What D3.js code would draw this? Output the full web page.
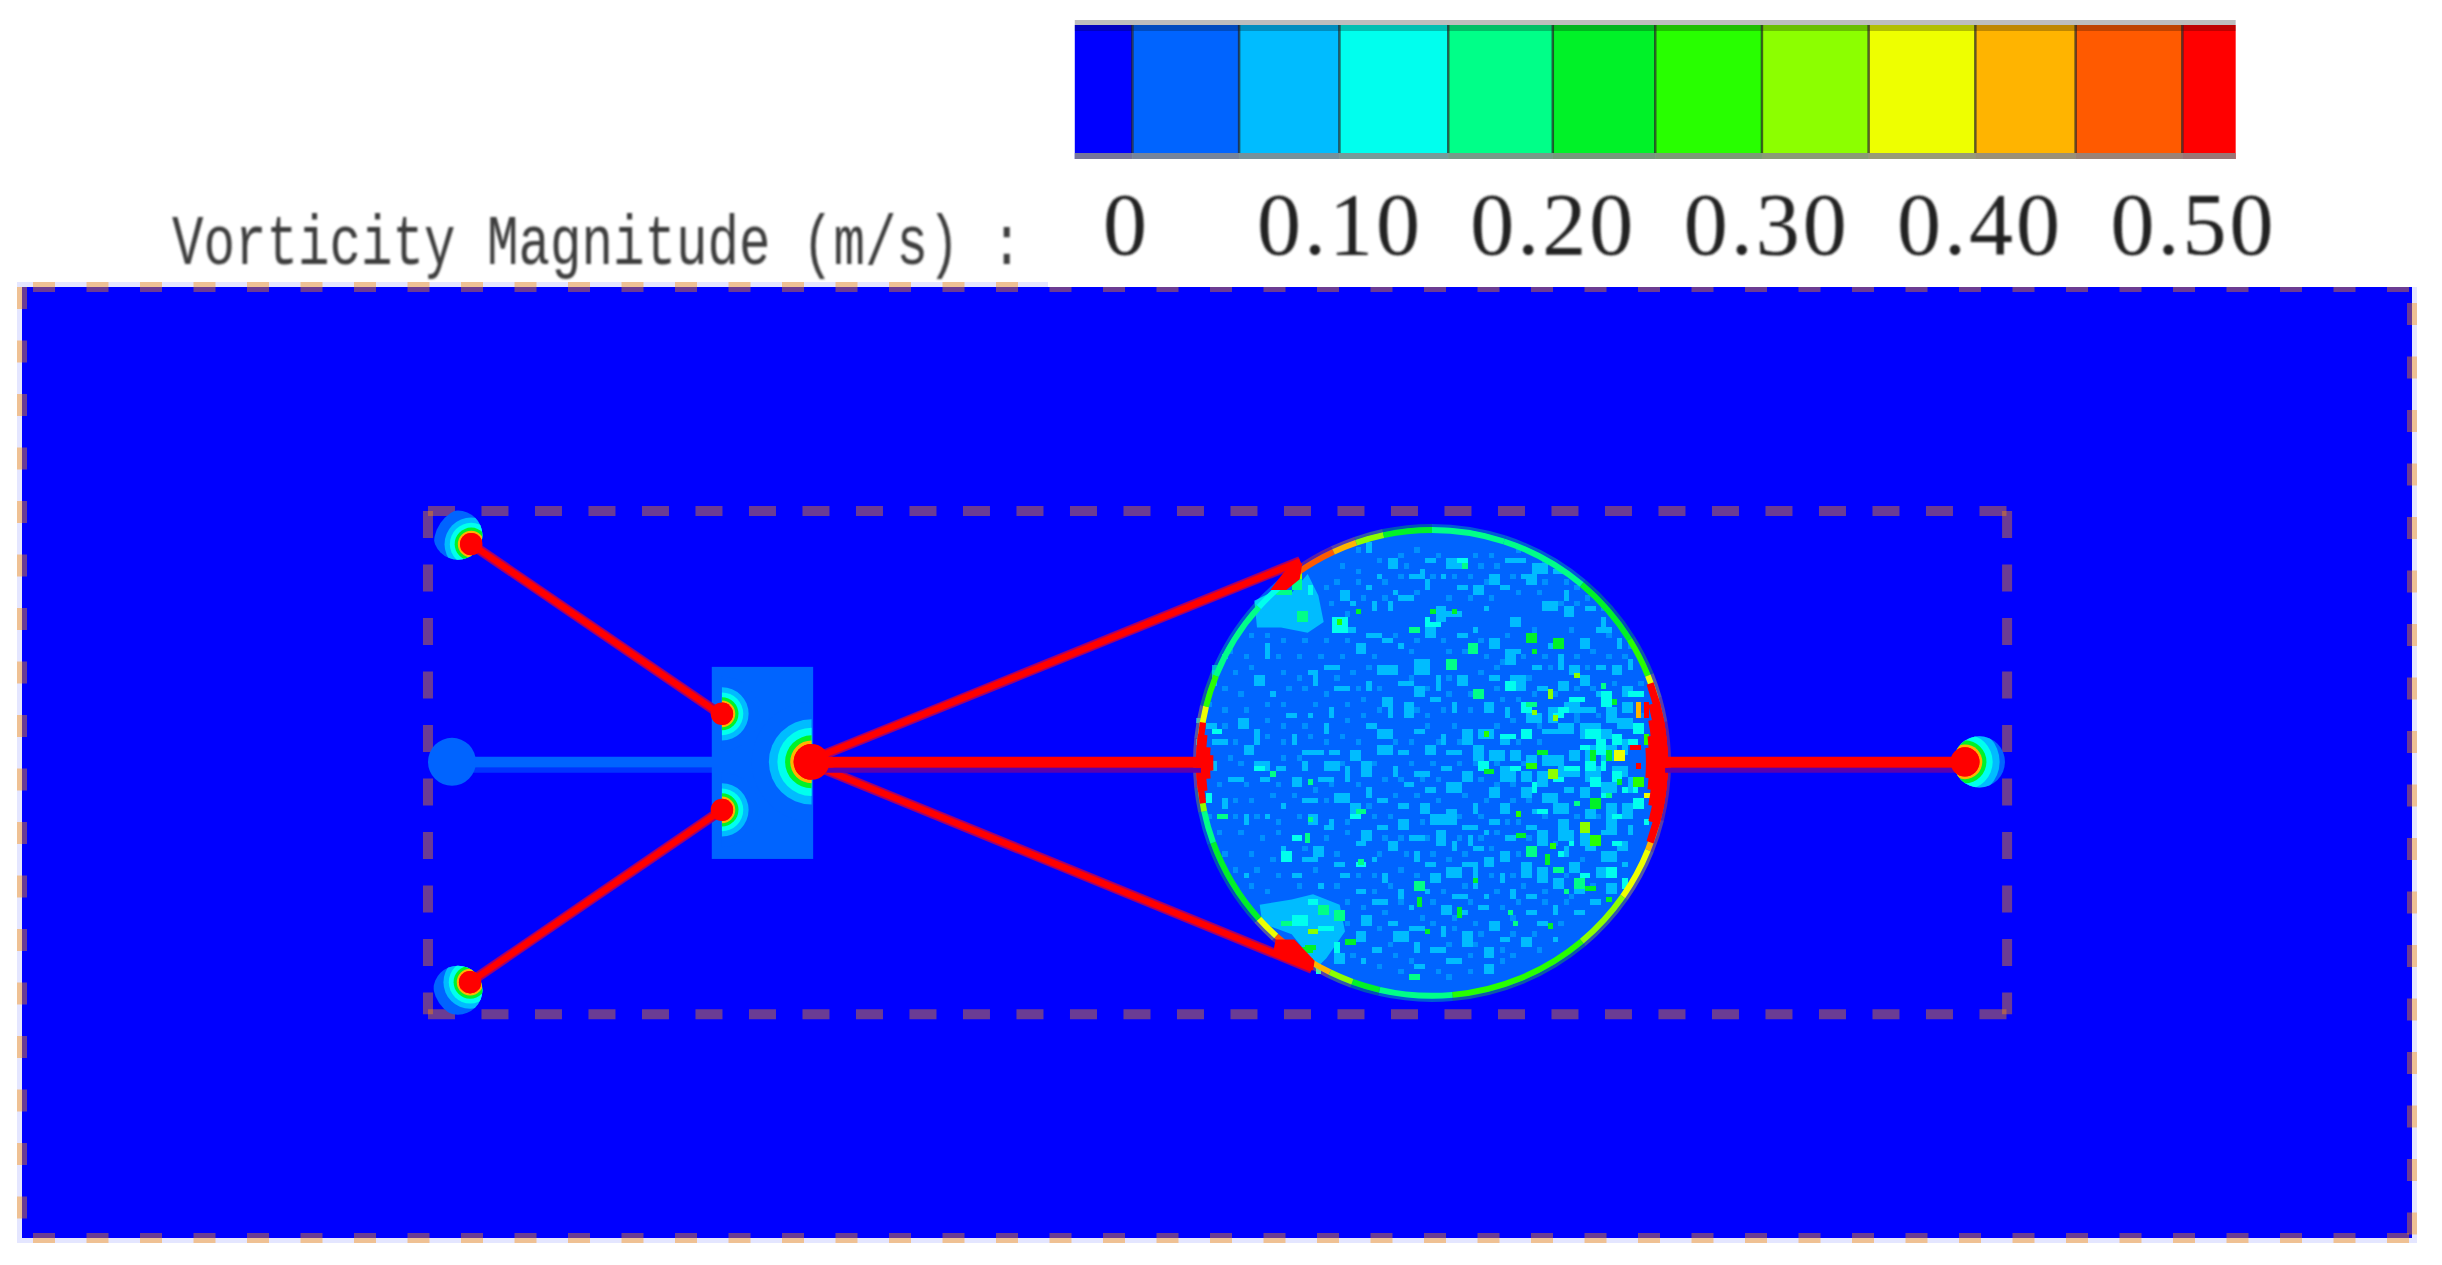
<!DOCTYPE html>
<html>
<head>
<meta charset="utf-8">
<script src="https://cdn.jsdelivr.net/npm/d3@7"></script>
<style>
  body { margin: 0; background: #fff; }
  svg { display: block; }
</style>
</head>
<body>
<svg id="chart" width="2442" height="1265"></svg>
<script>
// colour bar: value edges of every band and the band colours
const barEdges = [-0.024, 0.003, 0.053, 0.100, 0.151, 0.200, 0.248, 0.298, 0.348, 0.398, 0.445, 0.495, 0.520];
const barColors = ["#0000ff", "#0064ff", "#00bcff", "#00ffee", "#00ff88", "#00f228", "#28ff00", "#8cff00", "#eeff00", "#ffb400", "#ff5a00", "#ff0000"];
const barTicks = [0, 0.10, 0.20, 0.30, 0.40, 0.50];
const title = "Vorticity Magnitude (m/s) :";

// model geometry in grid cells of the source raster
const frameX = [76.1, 372.1];
const frameY = [42, 136.3];
const sphere = [264.3, 89.2, 44.2];
const tailNode = [80.6, 89, 4.5];
const block = [[129.3, 71.2], [148.3, 107.2]];

// [x1, y1, x2, y2]
const cables = [
  [84.2, 48.2, 130.8, 80],
  [84, 130.3, 131.2, 98],
  [147, 89, 239.6, 51.4],
  [147, 89, 241.8, 127.8]
];
const axisCables = [[147, 221], [308, 363.6]];
const tailCable = [84, 130];

// joints: x, y, first angle, last angle, ring size, clip disc [x, y, r] or null
const joints = [
  [84.2, 48.2, 0, 360, 1, [81.7, 46.5, 4.6]],
  [84, 130.3, 0, 360, 1, [81.7, 131.8, 4.6]],
  [131.2, 80, 0, 180, 1, null],
  [131.2, 98, 0, 180, 1, null],
  [148, 89, 180, 360, 1.6, null],
  [364.2, 89, 0, 360, 1.3, [366.9, 89, 4.8]]
];
const ringRadius = [7, 5, 4, 3.1, 2.5, 2.1];
const ringLevel = [1, 2, 3, 5, 9, 11];

// sphere rim, clockwise from the top in degrees
const rimBreaks = [0, 18, 40, 58, 68, 74, 80, 104, 112, 125, 140, 175, 193, 200, 206, 212, 222, 228, 250, 258, 264, 276, 284, 292, 312, 320, 325, 335, 341, 348, 360];
const rimLevels = [4, 4, 5, 6, 8, 9, 10, 9, 8, 7, 6, 4, 5, 7, 9, 10, 8, 5, 4, 7, 9, 8, 6, 4, 3, 7, 10, 9, 7, 5];
// red crescents: first angle, last angle, depth in cells
const crescents = [[70, 110, 1.4], [75, 105, 2.2], [79, 101, 2.9], [83, 97, 3.5], [86, 94, 4.1], [260, 280, 1.2], [263, 277, 1.8], [266, 274, 2.6], [268, 272, 3.2]];

// bright patches by the cable ends, points in cells from the sphere crop
const patchTop = [[14, 17], [17, 15.5], [21, 15.5], [24, 12], [26, 16], [27, 21], [24, 23], [19, 22], [14.5, 22]];
const patchBottom = [[15, 74], [21, 73], [25, 72], [30, 74], [31, 79], [27.5, 84], [25.5, 86], [23, 82], [21, 79.5], [15.5, 77.5]];
const wedgeTop = [[20.5, 10.5], [23, 10], [22.5, 13], [20, 15], [17, 15], [18.5, 13]];
const wedgeBottom = [[18, 80.5], [21.5, 80.5], [25.3, 84.5], [25, 86.3], [21, 85], [17.5, 83]];

// speckle inside the sphere: [col, row, wide, high], cells from the sphere crop
const speckleFaint = [
  [33, 7], [41, 8], [44, 7], [55, 8], [58, 8], [63, 7], [30, 10], [33, 11], [37, 9], [42, 10], [48, 8], [56, 10], [59, 10], [68, 9], [72, 13],
  [27, 14], [29, 13], [33, 13], [38, 13], [41, 12], [47, 12], [51, 12], [54, 12], [57, 13], [62, 12], [68, 13], [74, 14], [76, 16],
  [28, 17], [31, 19], [34, 16], [38, 16], [44, 15], [50, 16], [54, 16], [58, 16], [63, 15], [67, 15], [71, 17], [74, 17], [79, 18],
  [13, 23], [16, 23], [19, 24], [23, 24], [27, 24], [31, 24], [40, 23], [44, 24], [49, 24], [56, 24], [61, 23], [66, 22], [73, 22], [80, 23], [84, 25],
  [9, 26], [12, 27], [18, 27], [22, 27], [26, 27], [30, 27], [36, 27], [43, 26], [50, 26], [53, 26], [57, 27], [60, 28], [64, 27], [68, 27], [74, 27], [77, 26], [80, 27], [83, 27],
  [6, 29], [10, 30], [13, 29], [19, 30], [22, 31], [29, 31], [32, 30], [35, 29], [43, 31], [50, 31], [56, 30], [59, 29], [65, 31], [69, 29], [76, 29],
  [8, 33], [11, 34], [20, 33], [23, 33], [27, 34], [33, 33], [37, 33], [46, 33], [50, 34], [54, 34], [59, 33], [66, 34], [70, 34], [74, 33], [77, 33], [81, 32], [86, 32],
  [5, 36], [8, 37], [12, 37], [16, 36], [19, 36], [25, 36], [31, 36], [34, 35], [37, 37], [44, 37], [46, 38], [49, 37], [54, 37], [60, 35], [63, 35], [74, 38], [78, 38], [86, 38],
  [3, 39], [8, 40], [16, 39], [19, 40], [23, 40], [31, 39], [34, 38], [46, 40], [51, 40], [59, 40], [62, 39], [67, 40], [74, 39],
  [3, 43], [10, 43], [16, 42], [19, 43], [24, 42], [27, 43], [30, 42], [33, 43], [40, 43], [43, 43], [48, 43], [52, 43], [63, 43], [67, 43],
  [3, 46], [9, 46], [11, 47], [19, 46], [22, 46], [30, 47], [36, 47], [43, 47], [47, 47], [52, 47], [55, 47], [59, 47], [64, 47],
  [4, 50], [7, 51], [12, 51], [18, 51], [25, 52], [28, 51], [33, 51], [38, 50], [41, 50], [45, 50], [48, 50], [56, 50], [59, 51], [62, 51],
  [4, 54], [10, 54], [13, 54], [17, 53], [21, 53], [27, 54], [35, 55], [40, 53], [44, 53], [48, 54], [53, 53], [57, 54], [62, 54], [65, 54], [72, 55],
  [5, 57], [10, 57], [14, 57], [18, 58], [22, 57], [31, 58], [36, 57], [39, 57], [45, 58], [52, 57], [56, 57], [61, 58], [63, 58], [68, 57], [74, 57], [78, 57],
  [7, 60], [11, 60], [15, 61], [18, 60], [27, 61], [31, 60], [38, 61], [41, 61], [46, 61], [52, 61], [56, 61], [59, 60], [65, 61], [70, 62], [78, 62],
  [8, 64], [13, 64], [17, 65], [23, 63], [29, 64], [37, 64], [42, 64], [47, 64], [50, 65], [53, 64], [58, 63], [63, 64], [66, 64], [75, 65],
  [10, 67], [14, 67], [18, 68], [25, 67], [33, 68], [36, 68], [41, 67], [44, 68], [58, 68], [62, 68], [72, 68], [77, 70],
  [13, 70], [16, 71], [22, 70], [29, 70], [36, 71], [39, 70], [44, 70], [49, 71], [53, 70], [59, 71], [64, 70], [68, 71], [72, 73],
  [31, 73], [34, 74], [41, 73], [47, 73], [54, 73], [60, 74], [63, 73], [68, 73], [73, 72], [38, 75], [45, 76], [51, 76], [55, 77], [62, 76], [71, 77],
  [31, 77], [37, 78], [47, 77], [51, 78], [56, 79], [62, 79], [66, 79], [39, 81], [50, 81], [55, 81], [60, 82], [67, 82],
  [32, 83], [40, 83], [43, 84], [54, 83], [60, 84], [62, 83], [37, 85], [41, 86], [48, 86], [54, 86], [50, 87]
];
const speckleLight = [
  [35, 6, 1, 2], [39, 9, 2, 2], [46, 9, 2, 1], [50, 9, 3, 2], [61, 9, 4, 1], [66, 10, 3, 2], [45, 11, 1, 2], [37, 12, 1, 1],
  [43, 12, 2, 1], [49, 12, 1, 1], [58, 12, 2, 2], [64, 12, 3, 1], [70, 11, 2, 1], [30, 15, 2, 2], [35, 14, 1, 1], [40, 15, 1, 1],
  [46, 13, 1, 2], [52, 14, 2, 1], [55, 14, 2, 2], [60, 14, 2, 1], [65, 12, 2, 2], [72, 15, 1, 2], [32, 17, 1, 1], [36, 17, 1, 2],
  [39, 17, 1, 2], [41, 16, 3, 1], [48, 18, 2, 3], [50, 19, 3, 1], [57, 18, 1, 1], [62, 20, 2, 2], [68, 17, 3, 2], [72, 18, 2, 2],
  [76, 18, 2, 1], [79, 20, 1, 2], [43, 22, 2, 1], [46, 21, 2, 3], [30, 22, 3, 1], [35, 23, 3, 1], [38, 24, 2, 1], [33, 25, 2, 2],
  [41, 25, 1, 1], [52, 23, 2, 1], [55, 22, 1, 1], [58, 24, 2, 2], [63, 26, 1, 1], [69, 25, 2, 1], [75, 24, 2, 2], [78, 22, 3, 1],
  [82, 24, 1, 2], [16, 25, 1, 3], [8, 27, 1, 1], [14, 31, 2, 2], [17, 34, 1, 1], [24, 30, 2, 1], [27, 29, 3, 1], [37, 29, 4, 2],
  [44, 28, 3, 3], [48, 31, 1, 3], [61, 26, 2, 3], [66, 29, 2, 1], [71, 27, 1, 3], [73, 29, 2, 2], [78, 29, 2, 1], [81, 29, 2, 2],
  [84, 28, 1, 2], [6, 30, 1, 3], [25, 31, 1, 2], [29, 33, 3, 1], [35, 32, 1, 2], [41, 32, 3, 1], [44, 33, 2, 2], [52, 31, 2, 2],
  [58, 31, 2, 1], [62, 31, 3, 3], [67, 33, 2, 1], [71, 32, 2, 2], [75, 31, 2, 2], [78, 34, 3, 1], [83, 33, 2, 2], [28, 37, 1, 2],
  [38, 35, 2, 2], [42, 36, 2, 3], [39, 37, 1, 2], [47, 35, 2, 1], [51, 36, 1, 2], [57, 36, 2, 2], [61, 37, 1, 2], [65, 38, 3, 2],
  [69, 37, 2, 3], [72, 36, 3, 2], [75, 37, 3, 1], [80, 37, 2, 3], [83, 36, 2, 2], [5, 40, 2, 1], [11, 39, 2, 2], [14, 41, 1, 3],
  [20, 38, 2, 1], [24, 38, 1, 1], [27, 40, 1, 2], [35, 40, 2, 1], [37, 41, 3, 2], [44, 41, 2, 1], [49, 42, 1, 2], [53, 41, 2, 3],
  [56, 41, 3, 2], [60, 43, 2, 1], [64, 41, 1, 2], [68, 41, 3, 1], [71, 40, 3, 2], [75, 40, 4, 3], [79, 41, 2, 2], [82, 39, 3, 2],
  [6, 43, 3, 1], [12, 44, 2, 2], [21, 42, 1, 2], [23, 45, 4, 1], [28, 45, 2, 1], [32, 45, 2, 2], [37, 44, 3, 2], [41, 45, 2, 1],
  [46, 44, 2, 2], [50, 45, 3, 1], [55, 44, 2, 3], [58, 45, 3, 2], [62, 45, 2, 2], [65, 46, 2, 2], [68, 46, 4, 2], [73, 45, 2, 2],
  [76, 44, 2, 4], [79, 44, 3, 3], [83, 43, 1, 3], [6, 47, 1, 2], [14, 47, 3, 2], [18, 48, 2, 1], [23, 47, 1, 2], [27, 47, 3, 2],
  [31, 48, 1, 3], [34, 47, 2, 3], [40, 48, 1, 2], [44, 49, 3, 1], [49, 48, 2, 1], [53, 49, 2, 2], [60, 48, 3, 3], [64, 49, 2, 2],
  [67, 49, 2, 3], [71, 48, 4, 2], [76, 48, 3, 3], [81, 48, 3, 2], [9, 50, 3, 1], [15, 50, 2, 1], [21, 50, 2, 2], [26, 50, 3, 1],
  [29, 53, 3, 2], [35, 52, 1, 2], [42, 51, 2, 1], [46, 52, 2, 1], [50, 51, 3, 2], [58, 52, 2, 2], [64, 52, 2, 2], [68, 53, 3, 2],
  [72, 52, 2, 1], [75, 52, 2, 2], [79, 51, 3, 2], [84, 50, 2, 3], [8, 54, 1, 2], [19, 55, 1, 1], [23, 54, 3, 1], [32, 55, 2, 2],
  [37, 54, 2, 1], [41, 55, 2, 1], [45, 55, 2, 2], [50, 56, 2, 1], [55, 55, 1, 2], [60, 55, 2, 2], [66, 56, 3, 1], [70, 55, 3, 2],
  [76, 56, 2, 2], [80, 55, 2, 3], [83, 55, 2, 3], [12, 57, 1, 2], [16, 57, 1, 1], [24, 57, 2, 2], [28, 58, 1, 2], [41, 58, 2, 2],
  [47, 57, 5, 2], [53, 59, 3, 1], [58, 58, 2, 1], [65, 59, 2, 1], [71, 58, 2, 2], [80, 58, 2, 2], [84, 59, 1, 2], [27, 59, 2, 1],
  [34, 60, 2, 2], [37, 59, 2, 1], [43, 61, 3, 1], [48, 60, 2, 3], [54, 61, 1, 2], [57, 60, 1, 1], [61, 61, 2, 1], [67, 60, 2, 3],
  [71, 60, 3, 2], [75, 60, 2, 3], [79, 60, 3, 1], [82, 62, 2, 2], [19, 63, 1, 1], [25, 63, 2, 2], [33, 62, 2, 1], [39, 62, 2, 2],
  [44, 64, 1, 2], [51, 62, 1, 2], [55, 63, 2, 1], [60, 64, 2, 2], [72, 63, 1, 2], [76, 63, 2, 1], [79, 64, 3, 2], [23, 65, 3, 1],
  [29, 66, 2, 1], [36, 65, 1, 1], [46, 66, 2, 1], [53, 66, 3, 1], [57, 65, 2, 2], [64, 66, 2, 3], [67, 67, 2, 3], [73, 66, 2, 2],
  [78, 67, 4, 2], [83, 66, 1, 1], [12, 68, 1, 1], [21, 68, 2, 1], [30, 68, 2, 1], [38, 68, 1, 2], [47, 68, 2, 2], [50, 67, 3, 2],
  [55, 67, 1, 4], [60, 68, 1, 2], [70, 69, 2, 2], [74, 70, 2, 2], [80, 70, 2, 2], [26, 70, 1, 1], [33, 71, 2, 1], [41, 71, 1, 2],
  [46, 71, 1, 1], [51, 72, 3, 1], [57, 72, 1, 1], [62, 71, 1, 2], [65, 72, 2, 1], [77, 73, 2, 1], [36, 73, 3, 1], [43, 74, 1, 1],
  [49, 74, 2, 2], [53, 75, 1, 1], [56, 74, 2, 1], [65, 75, 2, 1], [70, 74, 1, 2], [74, 75, 2, 1], [34, 76, 2, 2], [39, 77, 2, 1],
  [43, 78, 3, 1], [49, 78, 1, 2], [58, 77, 2, 2], [67, 77, 2, 1], [33, 79, 2, 2], [40, 79, 3, 2], [53, 79, 2, 3], [60, 80, 2, 1],
  [64, 80, 2, 2], [70, 80, 1, 1], [36, 82, 2, 1], [44, 81, 1, 2], [47, 82, 3, 1], [57, 82, 2, 2], [29, 83, 2, 2], [34, 84, 1, 1],
  [44, 85, 2, 1], [50, 84, 3, 1], [57, 85, 2, 2]
];
const speckleCyan = [
  [24, 14, 1, 2], [28.5, 20, 3, 3], [52, 9, 2, 1], [46, 20, 1, 2], [47, 21, 2, 1], [61, 32, 2, 2], [64, 36, 2, 2], [71, 37, 2, 1],
  [73, 35, 3, 1], [79, 34, 2, 3], [84, 34, 3, 1], [64, 41, 2, 2], [70, 38, 2, 1], [76, 41, 3, 2], [81, 42, 2, 2], [85, 40, 2, 2],
  [61, 42, 2, 1], [75, 44, 2, 1], [78, 43, 2, 3], [84, 43, 2, 1], [56, 47, 2, 2], [62, 48, 2, 1], [72, 48, 3, 1], [76, 47, 2, 2],
  [79, 47, 1, 2], [81, 49, 2, 2], [85, 51, 1, 2], [66, 51, 1, 2], [70, 50, 2, 1], [77, 50, 2, 2], [83, 52, 1, 1], [67, 56, 2, 1],
  [79, 53, 2, 1], [85, 54, 2, 2], [81, 57, 2, 1], [75, 59, 1, 1], [87, 58, 1, 1], [71, 64, 1, 1], [73, 62, 1, 1], [81, 62, 2, 1],
  [14, 48, 2, 1], [19, 64, 2, 2], [21, 61, 2, 1], [5, 53, 1, 2], [6, 41, 2, 1], [60, 42, 2, 1], [32, 57, 2, 1], [75, 68, 2, 1],
  [80, 67, 2, 2], [83, 69, 1, 2], [24, 73, 2, 1], [21, 76, 3, 2], [26, 78, 3, 1], [29, 81, 1, 2], [33, 66, 2, 1]
];
const speckleHot = [
  [22, 19, 2, 2, 5], [29.5, 20.5, 1, 1, 7], [33, 18.5, 1, 1, 6], [47, 18.5, 1, 1, 6], [51, 18.5, 1, 1, 6], [53, 10, 1, 1, 5],
  [43, 22, 2, 1, 5], [54, 25, 2, 2, 5], [65, 23, 2, 2, 6], [70, 24, 2, 2, 6], [66, 26, 1, 1, 6], [50, 28, 2, 2, 5], [55, 33.5, 2, 2, 5],
  [74, 30.5, 1, 1, 8], [69, 33.5, 1, 1, 8], [69, 34.5, 1, 1, 8], [65, 36, 2, 1, 5], [66, 37.5, 1, 1, 8], [70, 38.5, 1, 1, 8],
  [81, 35.5, 1, 1, 6], [79, 32.5, 1, 1, 5], [57, 41.5, 1, 1, 7], [67, 45, 2, 1, 6], [65, 47.5, 2, 1, 7], [69, 48.5, 2, 2, 8],
  [57, 48.5, 2, 1, 6], [77, 45, 1, 2, 6], [80, 45, 1, 2, 6], [81.5, 45, 2, 2, 9], [84.5, 44, 2, 1, 12], [85.5, 47.5, 1, 1, 12],
  [82, 50.5, 1, 1, 6], [80, 53, 1, 1, 5], [77, 54, 2, 2, 6], [74, 54.5, 1, 1, 5], [63, 56.5, 1, 1, 7], [75, 58.5, 2, 2, 8],
  [63, 60.5, 2, 1, 6], [77, 61, 2, 2, 7], [65, 63, 2, 2, 5], [69.5, 62.5, 1, 1, 7], [68.5, 64.5, 1, 2, 6], [70, 67, 2, 1, 5],
  [74, 69, 2, 2, 5], [76, 70.5, 2, 1, 6], [72, 71, 1, 1, 5], [80, 72.5, 1, 1, 6], [55, 69, 1, 1, 6], [44, 69.5, 2, 2, 4.5],
  [44.5, 72.5, 1, 2, 6], [52, 74.5, 1, 2, 6], [46, 78.5, 1, 1, 6], [61.5, 75, 1, 1, 5], [62.5, 77, 1, 1, 5], [69, 77.5, 1, 1, 6],
  [43, 87, 2, 1, 4.5], [33.5, 65.5, 1, 1, 5], [33, 56, 2, 1, 5], [24, 57.5, 1, 1, 5], [23.5, 60.5, 1, 2, 4.5], [7, 57, 2, 1, 4.5],
  [26, 74, 2, 2, 5], [29, 75, 2, 2, 5], [19, 77, 2, 1, 5], [24, 78.5, 2, 1, 8], [31, 80.5, 2, 1, 6], [23.5, 81.5, 2, 1, 6],
  [17, 49, 1, 1, 5], [24, 50.5, 1, 1, 5], [87, 36, 1, 3, 12], [85.5, 36, 1, 3, 10], [87, 42, 1, 2, 7], [85, 50, 2, 2, 7], [87, 53, 2, 1, 9],
  [18, 15, 3, 1, 5], [21, 13, 2, 2, 5], [22, 11, 1, 2, 8], [22, 84, 3, 1, 7], [23, 82, 2, 1, 6], [25.5, 85, 1, 2, 4]
];

const svg = d3.select("#chart");
const defs = svg.append("defs");
defs.append("filter").attr("id", "soft").append("feGaussianBlur").attr("stdDeviation", 1.1);

// scales
const barScale = d3.scaleLinear().domain([0, 0.5]).range([1126, 2193]);
const x = d3.scaleLinear().domain([0, 448]).range([22, 2412]);
const y = d3.scaleLinear().domain([0, 178.25]).range([287, 1238]);
const cell = x(1) - x(0);
// the sphere crop starts at this grid cell
const cropX = c => x(217 + c);
const cropY = r => y(41.8 + r);

const deg = a => a * Math.PI / 180;
const at = (px, py) => `translate(${x(px)},${y(py)})`;

// ---- colour bar ----
const bar = svg.append("g");
bar.selectAll("rect.band").data(barColors).join("rect")
  .attr("class", "band")
  .attr("x", (d, i) => barScale(barEdges[i]))
  .attr("width", (d, i) => barScale(barEdges[i + 1]) - barScale(barEdges[i]))
  .attr("y", 25).attr("height", 134)
  .attr("fill", d => d);
bar.append("rect").attr("x", barScale(barEdges[0])).attr("y", 20)
  .attr("width", barScale(barEdges[12]) - barScale(barEdges[0])).attr("height", 5).attr("fill", "#bdbdbd");
bar.append("rect").attr("x", barScale(barEdges[0])).attr("y", 25)
  .attr("width", barScale(barEdges[12]) - barScale(barEdges[0])).attr("height", 6).attr("fill", "#000").attr("opacity", 0.25);
bar.append("rect").attr("x", barScale(barEdges[0])).attr("y", 153)
  .attr("width", barScale(barEdges[12]) - barScale(barEdges[0])).attr("height", 6).attr("fill", "#8a8a8a").attr("opacity", 0.85);
bar.selectAll("line").data(barEdges.slice(1, -1)).join("line")
  .attr("x1", d => barScale(d)).attr("x2", d => barScale(d))
  .attr("y1", 25).attr("y2", 153)
  .attr("stroke", "#222").attr("stroke-width", 2.5).attr("opacity", 0.7);

// tick labels under the bar
const barAxis = d3.axisBottom(barScale)
  .tickValues(barTicks).tickSize(0).tickPadding(0)
  .tickFormat(d => d === 0 ? "0" : d.toFixed(2));
const axisG = svg.append("g").attr("transform", "translate(0,192)").call(barAxis);
axisG.select(".domain").remove();
axisG.selectAll("text")
  .attr("font-family", "'Liberation Serif'").attr("font-size", 88)
  .attr("letter-spacing", 3).attr("fill", "#222").attr("filter", "url(#soft)");

// ---- field ----
const field = svg.append("g");
field.append("rect").attr("x", x(0) - 5).attr("y", y(0) - 5)
  .attr("width", x(448) - x(0) + 10).attr("height", y(178.25) - y(0) + 10).attr("fill", "#e4e6ff");
field.append("rect").attr("x", x(0)).attr("y", y(0))
  .attr("width", x(448) - x(0)).attr("height", y(178.25) - y(0)).attr("fill", barColors[0]);

// dashed border of the domain, each side has its own dash phase
const edges = [
  [0, 0, 448, 0, 11], [0, 178.25, 448, 178.25, 11],
  [0, 0, 0, 178.25, 0], [448, 0, 448, 178.25, 16]
];
field.selectAll("line.edge").data(edges).join("line")
  .attr("class", "edge")
  .attr("x1", d => x(d[0])).attr("y1", d => y(d[1]))
  .attr("x2", d => x(d[2])).attr("y2", d => y(d[3]))
  .attr("stroke", "#ff8e00").attr("stroke-opacity", 0.42).attr("stroke-width", 10)
  .attr("stroke-dasharray", "22 31.5").attr("stroke-dashoffset", d => -d[4]);
// the upper border only shows over the white on the left part
svg.append("rect").attr("x", 1048).attr("y", 270).attr("width", 1394).attr("height", y(0) - 270).attr("fill", "#fff");

// inner dashed box
const frameLines = [
  [frameX[0], frameY[0], frameX[1], frameY[0]], [frameX[0], frameY[1], frameX[1], frameY[1]],
  [frameX[0], frameY[0], frameX[0], frameY[1]], [frameX[1], frameY[0], frameX[1], frameY[1]]
];
field.selectAll("line.frame").data(frameLines).join("line")
  .attr("class", "frame")
  .attr("x1", d => x(d[0])).attr("y1", d => y(d[1]))
  .attr("x2", d => x(d[2])).attr("y2", d => y(d[3]))
  .attr("stroke", "#ff8e00").attr("stroke-opacity", 0.42).attr("stroke-width", 10)
  .attr("stroke-dasharray", "27 26.5");

// tail node and its cable, then the block
field.append("line")
  .attr("x1", x(tailCable[0])).attr("x2", x(tailCable[1]))
  .attr("y1", y(89.1)).attr("y2", y(89.1))
  .attr("stroke", barColors[1]).attr("stroke-width", 11);
field.append("line")
  .attr("x1", x(tailCable[0])).attr("x2", x(tailCable[1]))
  .attr("y1", y(89.1) + 8).attr("y2", y(89.1) + 8)
  .attr("stroke", "#0033ff").attr("stroke-width", 5);
field.append("circle").attr("cx", x(tailNode[0])).attr("cy", y(tailNode[1]))
  .attr("r", tailNode[2] * cell).attr("fill", barColors[1]);
field.append("rect")
  .attr("x", x(block[0][0])).attr("y", y(block[0][1]))
  .attr("width", x(block[1][0]) - x(block[0][0])).attr("height", y(block[1][1]) - y(block[0][1]))
  .attr("fill", barColors[1]);

// sphere body
const sphereG = field.append("g");
sphereG.append("circle").attr("cx", x(sphere[0])).attr("cy", y(sphere[1]))
  .attr("r", sphere[2] * cell).attr("fill", barColors[1]);

// patches by the cable ends
const patchLine = d3.line().x(d => cropX(d[0])).y(d => cropY(d[1]));
sphereG.selectAll("path.patch").data([patchTop, patchBottom]).join("path")
  .attr("class", "patch").attr("d", d => patchLine(d) + "Z").attr("fill", barColors[2]);

// speckle
const speckle = (list, fill) => sphereG.append("g").attr("shape-rendering", "crispEdges")
  .selectAll("rect").data(list).join("rect")
  .attr("x", d => cropX(d[0])).attr("y", d => cropY(d[1]))
  .attr("width", d => (d[2] || 1) * cell).attr("height", d => (d[3] || 1) * cell)
  .attr("fill", fill);
speckle(speckleFaint, "#0090ff");
speckle(speckleLight, barColors[2]);
speckle(speckleCyan, barColors[3]);
speckle(speckleHot, d => barColors[Math.round(d[4]) - 1]);

// rim
const rim = rimLevels.map((level, i) => ({ level, a0: rimBreaks[i], a1: rimBreaks[i + 1] }));
const rimArc = d3.arc()
  .innerRadius((sphere[2] - 1.1) * cell).outerRadius(sphere[2] * cell)
  .startAngle(d => deg(d.a0)).endAngle(d => deg(d.a1));
const haloArc = d3.arc()
  .innerRadius(sphere[2] * cell).outerRadius((sphere[2] + 0.6) * cell)
  .startAngle(d => deg(d.a0)).endAngle(d => deg(d.a1));
const sphereAt = at(sphere[0], sphere[1]);
sphereG.selectAll("path.halo").data(rim).join("path")
  .attr("class", "halo").attr("transform", sphereAt).attr("d", haloArc)
  .attr("fill", d => barColors[d.level]).attr("opacity", 0.35);
sphereG.selectAll("path.rim").data(rim).join("path")
  .attr("class", "rim").attr("transform", sphereAt).attr("d", rimArc)
  .attr("fill", d => barColors[d.level]);
const crescentArc = d3.arc()
  .innerRadius(d => (sphere[2] - d[2]) * cell).outerRadius(sphere[2] * cell)
  .startAngle(d => deg(d[0])).endAngle(d => deg(d[1]));
sphereG.selectAll("path.crescent").data(crescents).join("path")
  .attr("class", "crescent").attr("transform", sphereAt).attr("d", crescentArc)
  .attr("fill", barColors[11]);

// cables: a dark fringe and a red core
const cableLines = sel => sel
  .attr("x1", d => x(d[0])).attr("y1", d => y(d[1]))
  .attr("x2", d => x(d[2])).attr("y2", d => y(d[3]));
field.selectAll("line.fringe").data(cables).join("line").attr("class", "fringe").call(cableLines)
  .attr("stroke", "#a00070").attr("stroke-width", 10);
field.selectAll("line.core").data(cables).join("line").attr("class", "core").call(cableLines)
  .attr("stroke", barColors[11]).attr("stroke-width", 6.5);
field.selectAll("line.axisFringe").data(axisCables).join("line").attr("class", "axisFringe")
  .attr("x1", d => x(d[0])).attr("x2", d => x(d[1]))
  .attr("y1", y(89.1) + 8).attr("y2", y(89.1) + 8)
  .attr("stroke", "#5a00b0").attr("stroke-width", 5);
field.selectAll("line.axisCore").data(axisCables).join("line").attr("class", "axisCore")
  .attr("x1", d => x(d[0])).attr("x2", d => x(d[1]))
  .attr("y1", y(89.1)).attr("y2", y(89.1))
  .attr("stroke", barColors[11]).attr("stroke-width", 11);

// red wedges where the outer cables meet the sphere
field.selectAll("path.wedge").data([wedgeTop, wedgeBottom]).join("path")
  .attr("class", "wedge").attr("d", d => patchLine(d) + "Z").attr("fill", barColors[11]);

// joints: rings stepping through the colour levels, some cut by a disc
const ringArc = d3.arc();
joints.forEach((j, n) => {
  const clip = j[5];
  if (clip) {
    defs.append("clipPath").attr("id", `joint-${n}`).append("circle")
      .attr("cx", x(clip[0])).attr("cy", y(clip[1])).attr("r", clip[2] * cell);
  }
  const outer = field.append("g");
  if (clip) outer.attr("clip-path", `url(#joint-${n})`);
  const g = outer.append("g").attr("transform", at(j[0], j[1]));
  ringRadius.forEach((r, i) => {
    g.append("path")
      .attr("d", ringArc({ innerRadius: 0, outerRadius: r * j[4] * cell, startAngle: deg(j[2]), endAngle: deg(j[3]) }))
      .attr("fill", barColors[ringLevel[i]]);
  });
  // red core also shows on the cable side
  field.append("circle").attr("transform", at(j[0], j[1]))
    .attr("r", ringRadius[5] * j[4] * cell).attr("fill", barColors[11]);
});

// title, squeezed like the narrow bitmap font of the source
svg.append("text")
  .attr("transform", "translate(172,264) scale(0.75,1)")
  .attr("font-family", "'Liberation Mono'").attr("font-size", 70)
  .attr("fill", "#3d3d3d").attr("filter", "url(#soft)")
  .text(title);
</script>
</body>
</html>
